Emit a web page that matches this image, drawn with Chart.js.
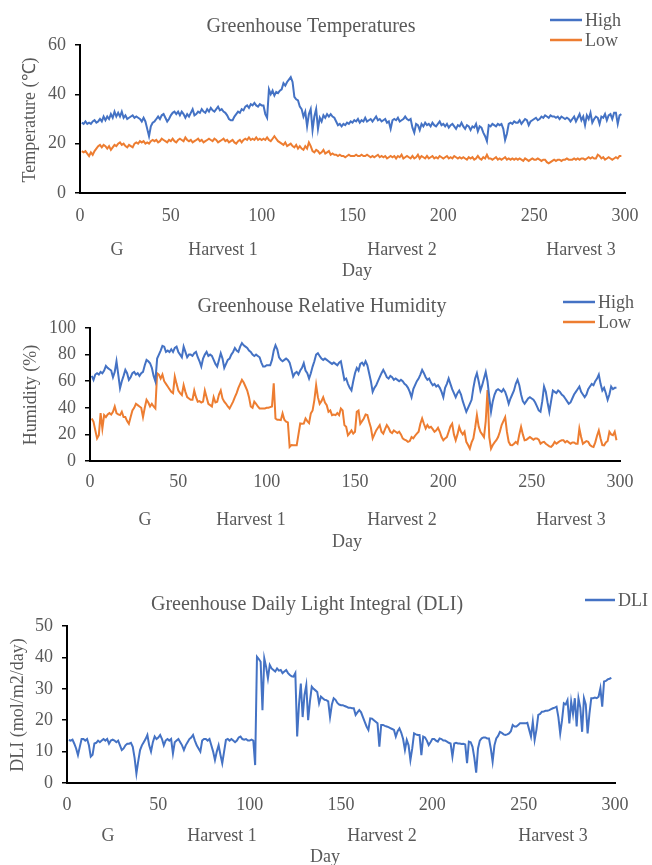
<!DOCTYPE html>
<html>
<head>
<meta charset="utf-8">
<title>Greenhouse conditions</title>
<script src="https://cdn.jsdelivr.net/npm/chart.js@4.4.1/dist/chart.umd.min.js"></script>
<style>
  html, body { margin: 0; padding: 0; background: #fff; }
  #page { position: relative; width: 652px; height: 865px; overflow: hidden; }
  .panel { position: absolute; left: 0; width: 652px; }
</style>
</head>
<body>
<div id="page">
  <div class="panel" style="top:0;height:285px"><canvas id="tempChart"></canvas></div>
  <div class="panel" style="top:285px;height:285px"><canvas id="rhChart"></canvas></div>
  <div class="panel" style="top:570px;height:295px"><canvas id="dliChart"></canvas></div>
</div>
<script>
"use strict";

// Data (one value per day, starting at day 1)
const days = Array.from({ length: 300 }, (_, i) => i + 1);
const stageLabels = ['G', 'Harvest 1', 'Harvest 2', 'Harvest 3'];
const xTicks = { min: 0, max: 300, step: 50 };

const tempHigh = [
  28.5, 28, 29, 28, 28.5, 28, 29, 29.5, 28.5, 29,
  30, 29, 31, 29.5, 31, 30, 32, 30.5, 33, 31,
  32.5, 31, 33, 30.5, 31.5, 30, 30.5, 31, 31.5, 30.5,
  31, 30.5, 30, 29, 30.5, 29, 26, 23, 27, 28.5,
  29, 30, 31, 30, 31.5, 32, 30.5, 29, 30, 31.5,
  32.5, 33, 32, 33, 31.5, 33, 32, 30.5, 32, 31,
  32.5, 34, 31.5, 32, 33, 32.5, 34, 33, 32.5, 34,
  33, 34.5, 33.5, 33, 34, 35, 33.5, 34, 33, 32.5,
  31.5, 30, 29.5, 29.5, 31, 32, 33, 32.5, 34, 33.5,
  35, 35.5, 34.5, 36, 35.5, 36.5, 35.5, 35, 36, 35.5,
  35.5, 32, 30.5, 42, 40, 41.5, 39.5, 41, 40.5, 41.5,
  42, 44.5, 43.5, 45, 46, 47, 45, 39, 38, 37.5,
  35, 34, 31, 33, 27, 32, 34, 25.5, 31, 34,
  26, 30.5, 29, 31.5, 30.5, 32, 31, 32, 31, 30.5,
  29, 27.5, 28, 27, 28, 27.5, 28.5, 28, 29, 28.5,
  29.5, 29, 30, 28.5, 29.5, 29, 30.5, 29, 29.5, 30,
  29, 30, 31, 29.5, 30, 29, 29.5, 30, 28.5, 29,
  26, 29.5, 30, 29.5, 30.5, 29, 29.5, 30, 31, 30,
  29.5, 30, 26.5, 24.5, 28, 27.5, 25.5, 28, 27, 28.5,
  27.5, 28, 27, 28.5, 27.5, 27, 28, 29, 27.5, 28,
  27, 28, 26.5, 27.5, 28, 27, 26, 27.5, 27, 28.5,
  27, 26, 27.5, 27, 25.5, 27, 26.5, 28, 25, 27,
  26.5, 24.5, 23, 21, 27.5, 27, 28, 27.5, 27, 28,
  27.5, 28, 26, 21.5, 24, 28, 28.5, 28, 29, 28.5,
  28.5, 29.5, 28, 29, 30, 29.5, 27.5, 29, 29.5, 30,
  30.5, 29.5, 30, 31, 30.5, 31.5, 31, 30.5, 31.5, 31,
  31, 30.5, 31, 30, 31, 30.5, 30, 30.5, 30, 29,
  30, 31, 29, 30.5, 32, 29.5, 31, 27.5, 31.5, 30,
  32.5, 28.5, 30, 31, 30.5, 28, 31, 30.5, 32, 29.5,
  31.5, 32, 30, 32.5, 32.5, 28, 31.5, 32
];

const tempLow = [
  17, 16.5, 17, 16, 15, 16.5, 15.5, 17, 18, 19,
  19.5, 18.5, 19.5, 19, 18, 19, 17.5, 18.5, 19.5, 19,
  20, 20.5, 19.5, 20, 19, 18.5, 19.5, 19, 18.5, 20,
  20.5, 20, 21, 20.5, 21, 20, 20.5, 20, 21, 21.5,
  21, 21.5, 20.5, 21, 22, 21.5, 21, 20.5, 21.5, 21,
  22, 21, 20.5, 21.5, 22, 21.5, 21, 22.5, 21.5, 21,
  21.5, 20.5, 21, 21.5, 22, 21, 21.5, 20.5, 21, 21.5,
  22, 21.5, 21, 22, 21.5, 20.5, 21, 21.5, 22, 21,
  21.5, 20.5, 21, 21.5, 20.5, 20, 21, 21.5, 20.5, 21.5,
  22, 21.5, 22.5, 21.5, 22, 21.5, 22.5, 21.5, 22, 21.5,
  22, 21.5, 22.5, 21.5, 21, 22, 23, 22, 21, 20.5,
  20, 19.5, 20.5, 19, 19.5, 20, 19, 18.5, 19.5, 18,
  19, 18, 17.5, 19, 18, 20.5, 19, 17, 16.5, 17.5,
  17, 16, 16.5, 17.5, 16, 16.5, 17, 15.5, 16, 15.5,
  15.5, 15, 15.5, 15, 15, 14.5, 15, 15.5, 15, 15,
  15, 15.5, 15, 15, 15.5, 15, 15, 15.5, 15, 14.5,
  15, 14.5, 15, 15.5, 14.5, 15, 14.5, 15, 14, 14.5,
  15, 14.5, 15, 14, 15, 14.5, 15.5, 14, 14.5, 15,
  14.5, 14, 15, 14, 14.5, 15.5, 14, 15, 14.5, 14,
  15, 14, 14.5, 15, 14, 14.5, 14, 15, 14.5, 14,
  14.5, 15, 14, 14.5, 14, 15, 14.5, 14, 14.5, 14,
  14.5, 14, 13.5, 14.5, 14, 14.5, 13.5, 14, 15, 14,
  13.5, 14.5, 14, 15.5, 14, 14, 13.5, 14, 14.5, 13.5,
  14, 13.5, 14, 14.5, 13.5, 14, 13.5, 14, 13.5, 14,
  13.5, 14, 13.5, 13, 14, 13.5, 13, 13.5, 14, 13.5,
  13.5, 14, 13.5, 13, 13.5, 13.5, 12.5, 12, 12.5, 13,
  13.5, 13, 13.5, 13.5, 13, 13.5, 13.5, 14, 13.5, 13.5,
  13.5, 14, 13.5, 14, 13.5, 14, 14, 13.5, 14, 14.5,
  14, 14.5, 14, 14, 15.5, 15, 14, 14.5, 13.5, 14,
  14.5, 14, 13.5, 14, 14.5, 14, 15, 15
];

const rhHigh = [
  64, 61, 65, 66, 65, 67, 66, 68, 71.5, 70,
  69, 68, 63, 67, 75, 65, 54.7, 60, 64, 68.5,
  66, 61, 63, 66, 67, 65, 66, 64, 66, 67,
  72, 76, 75, 73.5, 70, 64, 60, 77, 80, 83,
  86.6, 86, 82, 83, 82, 84, 82, 85, 86, 82,
  80, 78, 86, 82, 78, 80, 80, 79, 81, 82,
  78, 75, 71, 77, 80, 82, 79, 80, 79, 76,
  73, 71, 76, 81, 77, 70, 73, 76, 77, 80,
  82, 85, 83, 82, 86, 88.7, 87, 86, 85, 83,
  82, 80, 79, 80, 79, 78, 74, 71, 71, 72,
  72, 72, 76, 83, 87, 84, 78, 76, 75, 76,
  77, 76, 74, 69, 63.5, 66, 67, 65, 68, 70,
  73.5, 68, 66, 62, 66, 71, 75, 80, 81, 79,
  77, 76, 77, 76, 75, 74, 73, 74, 73, 72,
  74, 75, 68, 61, 62, 58, 55, 53, 60, 66,
  70, 68, 73, 74, 72, 75, 72, 66, 60, 52,
  55, 57, 60, 63, 66, 68.5, 66, 63, 62, 64,
  63, 61, 62, 61, 60, 61, 60, 58, 57, 55,
  52, 48, 54, 57, 60, 62, 65, 68.5, 66, 63,
  61, 62, 59, 57, 58, 56, 57, 55, 52, 48,
  55, 58, 62, 58, 54, 51, 48, 51, 53, 50,
  45, 41, 37, 40, 43, 46, 55, 62, 66, 60,
  53, 57, 62, 67, 60, 48, 37, 45, 50, 53,
  54, 53, 52, 54, 52, 48, 43, 47, 50, 53,
  58, 61, 57, 50, 45, 43, 45, 47, 48, 47,
  46, 44, 41, 38, 37, 45, 56, 52, 44, 37,
  45, 53, 52, 51, 53, 52, 50, 49, 47, 45,
  43, 44, 47, 50, 52, 54, 56, 52, 50, 48,
  50, 54, 56, 58, 57, 60, 62, 65, 58, 53,
  55, 51, 46, 50, 56, 54, 55, 55
];

const rhLow = [
  32, 29.5, 23, 17, 19.4, 36, 24.4, 34.5, 33, 35,
  36, 35, 37, 41, 36, 35, 34.5, 37, 33, 33,
  30, 28, 33, 38, 40, 43, 42, 41, 40, 33,
  40, 46, 44, 41, 43, 41, 39.5, 66, 65, 62,
  65, 60, 58, 56, 54, 52, 51, 63.5, 58, 53,
  51, 49.6, 57, 52, 48, 47, 46, 46, 53, 48,
  44.6, 45, 44, 44.6, 53, 48, 43, 42, 41, 48,
  44, 44.6, 50, 53, 47, 44.6, 43, 41, 39.5, 42,
  44.6, 48, 51, 55, 58, 61, 59, 56, 53, 48,
  41, 40, 44.6, 43, 41, 39.5, 39.5, 39.5, 39.5, 40,
  40, 40.5, 41, 58.4, 32, 31, 31, 30.7, 35.8, 31,
  29.5, 29, 10.6, 12, 11.8, 11.8, 11.8, 20, 28.2, 28,
  28.2, 32, 30, 28.5, 35.8, 38, 45.8, 57, 48, 43,
  45, 48, 44, 42, 37, 38, 34.5, 35, 34.5, 36,
  34.5, 39.5, 38, 27, 25.7, 19.4, 21, 23, 20.6, 22,
  37, 38, 28, 30, 32, 35, 34.5, 29.5, 25, 17,
  20, 23, 25, 27, 22, 20.6, 24, 27, 25, 22,
  21, 23, 22, 21, 22, 20, 17, 16, 15.5, 14.4,
  15, 18, 17, 19, 20.6, 22, 28, 32, 28, 24.4,
  27, 25, 25.7, 24, 22, 23, 25, 22, 18, 15.6,
  17, 18, 22, 26, 28, 20, 15.6, 20, 25.7, 22,
  20, 22, 14.4, 12, 9.3, 14, 17, 25, 34.5, 26,
  22, 20, 18, 30, 53.4, 18, 9.3, 12, 14, 15.6,
  18, 22, 27, 30, 33, 22, 14.4, 12, 11.8, 13,
  14.4, 13, 20, 25.7, 20, 15.6, 16, 17, 18, 17,
  16, 17, 17, 16, 13, 14, 14.4, 13, 12, 11,
  10.6, 12, 14.4, 13, 14, 15, 15.6, 15.6, 14, 15,
  14, 13, 14, 14, 13, 13, 24.4, 18, 13, 14,
  15, 14.5, 12, 11, 10.6, 14, 19, 23, 17, 12,
  11.8, 14, 15, 22, 20, 19.4, 22, 15.6
];

const dli = [
  13.7, 13.5, 13.8, 12.5, 11, 8.9, 11.5, 14, 14, 13.5,
  14, 12, 8.4, 9, 12.6, 12.8, 13.5, 13, 13.5, 14,
  13.5, 14, 12.5, 13.5, 13.8, 13.5, 13, 13.5, 12, 10.5,
  11, 12, 12.5, 12.5, 12.8, 11.5, 8, 3, 7, 10.5,
  12, 13, 14, 15.3, 12, 10, 13, 14.8, 14, 14.5,
  15.3, 14, 12, 13.5, 14, 13.5, 14, 9.4, 13, 13.5,
  14, 13, 12, 10.5, 12, 13, 14, 14.5, 15.3, 13.5,
  12, 11, 10, 13.5, 14, 14, 13.5, 14, 12, 10,
  7.3, 10, 12, 9, 6.3, 10, 13.7, 14, 13.5, 14,
  13.5, 13, 13.5, 14.5, 14.8, 14, 13.8, 14, 13.5, 13.5,
  13.8, 13.5, 5.7, 40.2, 39.5, 38.6, 23.2, 39.7, 37, 33.3,
  37.6, 36.5, 36, 35.5, 36.5, 35.8, 36, 35, 35.5, 36,
  35, 34.4, 34, 33.9, 35, 14.8, 25, 31.7, 21, 28,
  31.2, 20, 26, 30.7, 30, 29.5, 29, 25.4, 27.5, 27,
  26.5, 26.4, 26, 21, 25, 27, 26.5, 25.5, 25, 24.8,
  24.8, 24.5, 24.3, 24, 24, 23.8, 23.8, 21.7, 22.5, 23.2,
  22.5, 21, 19.5, 18, 16.9, 20.6, 20.5, 20, 19.5, 19,
  11.6, 18.5, 18.5, 18.2, 18, 17.8, 17.5, 17.2, 16.9, 14.8,
  16.5, 17.4, 16, 14, 10.5, 13.7, 12, 7.3, 11, 15.8,
  15.5, 15.3, 15.3, 8.9, 14.8, 14.5, 13.5, 12.1, 13, 14,
  14, 13.5, 13.2, 14.2, 14, 13.5, 13.5, 13.2, 12.8, 12.6,
  8.4, 12.6, 12.8, 12.6, 12.6, 12.4, 12.5, 12.3, 6.3, 13.2,
  13, 11.5, 8, 3.3, 11, 13.5, 14.2, 14.5, 14.5, 14.2,
  14.2, 11, 6.8, 12, 14.2, 15, 16.3, 16, 15.5, 15.3,
  15.5, 15.8, 16.5, 18.5, 18, 18, 18.5, 19, 19, 19,
  19, 19.2, 17, 14.8, 19.5, 13.7, 17, 21.7, 22, 22.7,
  22.8, 23, 23, 23.2, 23.5, 23.8, 24, 24.3, 21, 15.8,
  20, 25.4, 25, 26.4, 19, 25.9, 22, 27, 18, 27,
  24, 16.3, 27, 25, 15.8, 22, 27, 27, 27.2, 27,
  27.5, 30.2, 24.3, 32.3, 32.5, 33, 33.2, 33.5
];

const BLUE = '#4472C4';
const ORANGE = '#ED7D31';
const TEXT = '#595959';
const SERIF = '"Liberation Serif", "Times New Roman", serif';

// Draws title, legend, stage labels and axis titles at fixed spots
const panelTextPlugin = (spec) => ({
    id: 'panelText',
    afterDraw(chart) {
        const ctx = chart.ctx;
        ctx.save();
        ctx.fillStyle = TEXT;
        ctx.textAlign = 'center';
        ctx.textBaseline = 'middle';

        ctx.font = `20px ${SERIF}`;
        ctx.fillText(spec.title, spec.titleAt[0], spec.titleAt[1]);

        ctx.font = `18px ${SERIF}`;
        spec.stageX.forEach((x, i) => ctx.fillText(stageLabels[i], x, spec.stageY));
        ctx.fillText('Day', spec.dayAt[0], spec.dayAt[1]);

        ctx.save();
        ctx.translate(spec.yTitleAt[0], spec.yTitleAt[1]);
        ctx.rotate(-Math.PI / 2);
        ctx.fillText(spec.yTitle, 0, 0);
        ctx.restore();

        // legend
        ctx.textAlign = 'left';
        spec.series.forEach((s, i) => {
            const y = spec.legendY[i];
            ctx.strokeStyle = s.color;
            ctx.lineWidth = 2.5;
            ctx.beginPath();
            ctx.moveTo(spec.legendX[0], y);
            ctx.lineTo(spec.legendX[1], y);
            ctx.stroke();
            ctx.fillText(s.label, spec.legendX[1] + 3, y + 1);
        });
        ctx.restore();
    }
});

const makeChart = (canvasId, spec) => new Chart(document.getElementById(canvasId), {
    type: 'line',
    data: {
        datasets: spec.series.map(s => ({
            label: s.label,
            data: s.values.map((v, i) => ({ x: days[i], y: v })),
            borderColor: s.color,
            backgroundColor: s.color,
            borderWidth: 2,
            pointRadius: 0,
            tension: 0
        }))
    },
    options: {
        responsive: true,
        maintainAspectRatio: false,
        animation: false,
        layout: { padding: { left: 0, right: spec.padRight, top: spec.padTop, bottom: 0 } },
        plugins: { legend: { display: false }, tooltip: { enabled: false } },
        scales: {
            x: {
                type: 'linear',
                min: xTicks.min,
                max: xTicks.max,
                afterFit: (axis) => { axis.height = spec.xAxisHeight; },
                ticks: { stepSize: xTicks.step, padding: spec.xTickPad, color: TEXT, font: { family: SERIF, size: 18 }, maxRotation: 0 },
                grid: { drawOnChartArea: false, drawTicks: false },
                border: { display: true, color: '#000', width: 2 }
            },
            y: {
                min: 0,
                max: spec.yMax,
                afterFit: (axis) => { axis.width = spec.yAxisWidth; },
                ticks: { stepSize: spec.yStep, padding: 9, color: TEXT, font: { family: SERIF, size: 18 } },
                grid: { drawOnChartArea: false, drawTicks: true, tickLength: 5, color: '#000', lineWidth: 1.5 },
                border: { display: true, color: '#000', width: 2 }
            }
        }
    },
    plugins: [panelTextPlugin(spec)]
});

makeChart('tempChart', {
    title: 'Greenhouse Temperatures',
    titleAt: [311, 27],
    yTitle: 'Temperature (\u2103)',
    yTitleAt: [30, 120],
    yMax: 60, yStep: 20,
    padTop: 45, padRight: 27, yAxisWidth: 80, xAxisHeight: 92, xTickPad: 12,
    stageX: [117, 223, 402, 581], stageY: 250,
    dayAt: [357, 271],
    legendX: [550, 582], legendY: [20, 40],
    series: [
        { label: 'High', values: tempHigh, color: BLUE },
        { label: 'Low', values: tempLow, color: ORANGE }
    ]
});

makeChart('rhChart', {
    title: 'Greenhouse Relative Humidity',
    titleAt: [322, 22],
    yTitle: 'Humidity (%)',
    yTitleAt: [31, 110],
    yMax: 100, yStep: 20,
    padTop: 43, padRight: 32, yAxisWidth: 90, xAxisHeight: 109, xTickPad: 10,
    stageX: [145, 251, 402, 571], stageY: 235,
    dayAt: [347, 257],
    legendX: [563, 595], legendY: [17, 37],
    series: [
        { label: 'High', values: rhHigh, color: BLUE },
        { label: 'Low', values: rhLow, color: ORANGE }
    ]
});

makeChart('dliChart', {
    title: 'Greenhouse Daily Light Integral (DLI)',
    titleAt: [307, 35],
    yTitle: 'DLI (mol/m2/day)',
    yTitleAt: [18, 135],
    yMax: 50, yStep: 10,
    padTop: 56, padRight: 37, yAxisWidth: 67, xAxisHeight: 82, xTickPad: 11,
    stageX: [108, 222, 382, 553], stageY: 266,
    dayAt: [325, 287],
    legendX: [585, 615], legendY: [30],
    series: [
        { label: 'DLI', values: dli, color: BLUE }
    ]
});
</script>
</body>
</html>
